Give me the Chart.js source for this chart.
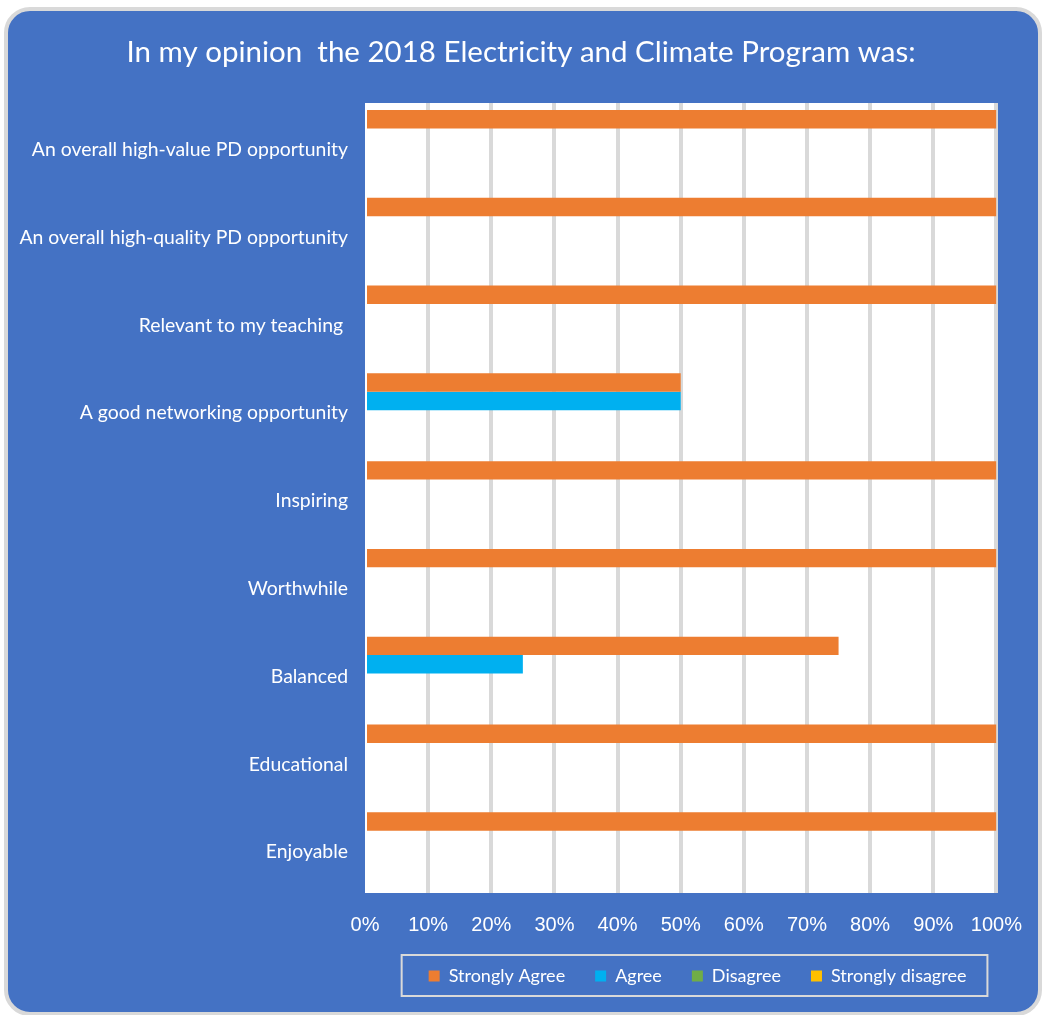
<!DOCTYPE html>
<html>
<head>
<meta charset="utf-8">
<title>2018 Electricity and Climate Program</title>
<script src="https://cdn.jsdelivr.net/npm/chart.js@4.4.0/dist/chart.umd.min.js"></script>
<style>
    html, body { margin: 0; padding: 0; background: #ffffff; overflow: hidden; }
    #card {
        position: absolute; left: 4px; top: 7px;
        width: 1038px; height: 1009px; box-sizing: border-box;
        border: 4px solid #d9d9d9; border-radius: 26px;
        background: #4472c4;
    }
    #chart { position: absolute; left: 0; top: 0; }
</style>
</head>
<body>
<div id="card"></div>
<canvas id="chart" width="1042" height="1015"></canvas>
<script>
const categories = [
    'An overall high-value PD opportunity',
    'An overall high-quality PD opportunity',
    'Relevant to my teaching ',
    'A good networking opportunity',
    'Inspiring',
    'Worthwhile',
    'Balanced',
    'Educational',
    'Enjoyable'
];
const stronglyAgree = [100, 100, 100, 50, 100, 100, 75, 100, 100];
const agree = [0, 0, 0, 50, 0, 0, 25, 0, 0];
const disagree = [0, 0, 0, 0, 0, 0, 0, 0, 0];
const stronglyDisagree = [0, 0, 0, 0, 0, 0, 0, 0, 0];
const xTickLabels = ['0%', '10%', '20%', '30%', '40%', '50%', '60%', '70%', '80%', '90%', '100%'];

// white plot area behind the bars
const plotBackground = {
    id: 'plotBackground',
    beforeDraw(chart) {
        const a = chart.chartArea;
        const ctx = chart.ctx;
        ctx.save();
        ctx.fillStyle = '#ffffff';
        ctx.fillRect(a.left, a.top, a.right - a.left, a.bottom - a.top);
        ctx.restore();
    }
};

// thin frame round the legend items
const legendFrame = {
    id: 'legendFrame',
    afterDraw(chart) {
        const boxes = chart.legend && chart.legend.legendHitBoxes;
        if (!boxes || !boxes.length) return;
        const first = boxes[0];
        const last = boxes[boxes.length - 1];
        const left = first.left - 27;
        const right = last.left + last.width + 21;
        const top = first.top - 12;
        const bottom = first.top + first.height + 11;
        const ctx = chart.ctx;
        ctx.save();
        ctx.strokeStyle = '#d9d9d9';
        ctx.lineWidth = 2;
        ctx.strokeRect(left, top, right - left, bottom - top);
        ctx.restore();
    }
};

const ctx = document.getElementById('chart').getContext('2d');
new Chart(ctx, {
    type: 'bar',
    data: {
        labels: categories,
        datasets: [
            { label: 'Strongly Agree', data: stronglyAgree, backgroundColor: '#ED7D31' },
            { label: 'Agree', data: agree, backgroundColor: '#00B0F0' },
            { label: 'Disagree', data: disagree, backgroundColor: '#70AD47' },
            { label: 'Strongly disagree', data: stronglyDisagree, backgroundColor: '#FFC000' }
        ]
    },
    options: {
        indexAxis: 'y',
        responsive: false,
        animation: false,
        datasets: {
            bar: { categoryPercentage: 0.84, barPercentage: 1.0 }
        },
        layout: { padding: { left: 0, right: 0, top: 0, bottom: 20 } },
        scales: {
            x: {
                min: 0,
                max: 100,
                ticks: {
                    stepSize: 10,
                    autoSkip: false,
                    maxRotation: 0,
                    color: '#ffffff',
                    font: { family: 'Liberation Sans', size: 20 },
                    padding: 20,
                    callback: function(value, index) { return xTickLabels[index]; }
                },
                grid: {
                    color: function(c) { return c.tick && c.tick.value === 0 ? 'rgba(0,0,0,0)' : '#d9d9d9'; },
                    lineWidth: 4,
                    drawTicks: false
                },
                border: { display: false },
                afterFit: function(scale) { scale.height = 44; }
            },
            y: {
                ticks: {
                    autoSkip: false,
                    color: '#ffffff',
                    font: { family: 'Lato', size: 19.4 },
                    padding: 17,
                    labelOffset: 3
                },
                grid: { display: false, drawTicks: false },
                border: { display: false },
                afterFit: function(scale) { scale.width = 365; }
            },
            // empty strip on the right, keeps the plot clear of the card edge
            yRight: {
                type: 'linear',
                position: 'right',
                ticks: { display: false },
                grid: { display: false, drawTicks: false },
                border: { display: false },
                afterFit: function(scale) { scale.width = 45; }
            }
        },
        plugins: {
            title: {
                display: true,
                text: 'In my opinion  the 2018 Electricity and Climate Program was:',
                color: '#ffffff',
                font: { family: 'Lato', size: 29.5, weight: 'normal' },
                padding: { top: 35, bottom: 32.6 }
            },
            legend: {
                position: 'bottom',
                align: 'end',
                fullSize: false,
                labels: {
                    color: '#ffffff',
                    font: { family: 'Lato', size: 18 },
                    boxWidth: 11,
                    boxHeight: 11,
                    padding: 30,
                    generateLabels: function(chart) {
                        return Chart.defaults.plugins.legend.labels.generateLabels(chart)
                            .map(function(item) { item.lineWidth = 0; return item; });
                    }
                }
            },
            tooltip: { enabled: false }
        }
    },
    plugins: [plotBackground, legendFrame]
});
</script>
</body>
</html>
